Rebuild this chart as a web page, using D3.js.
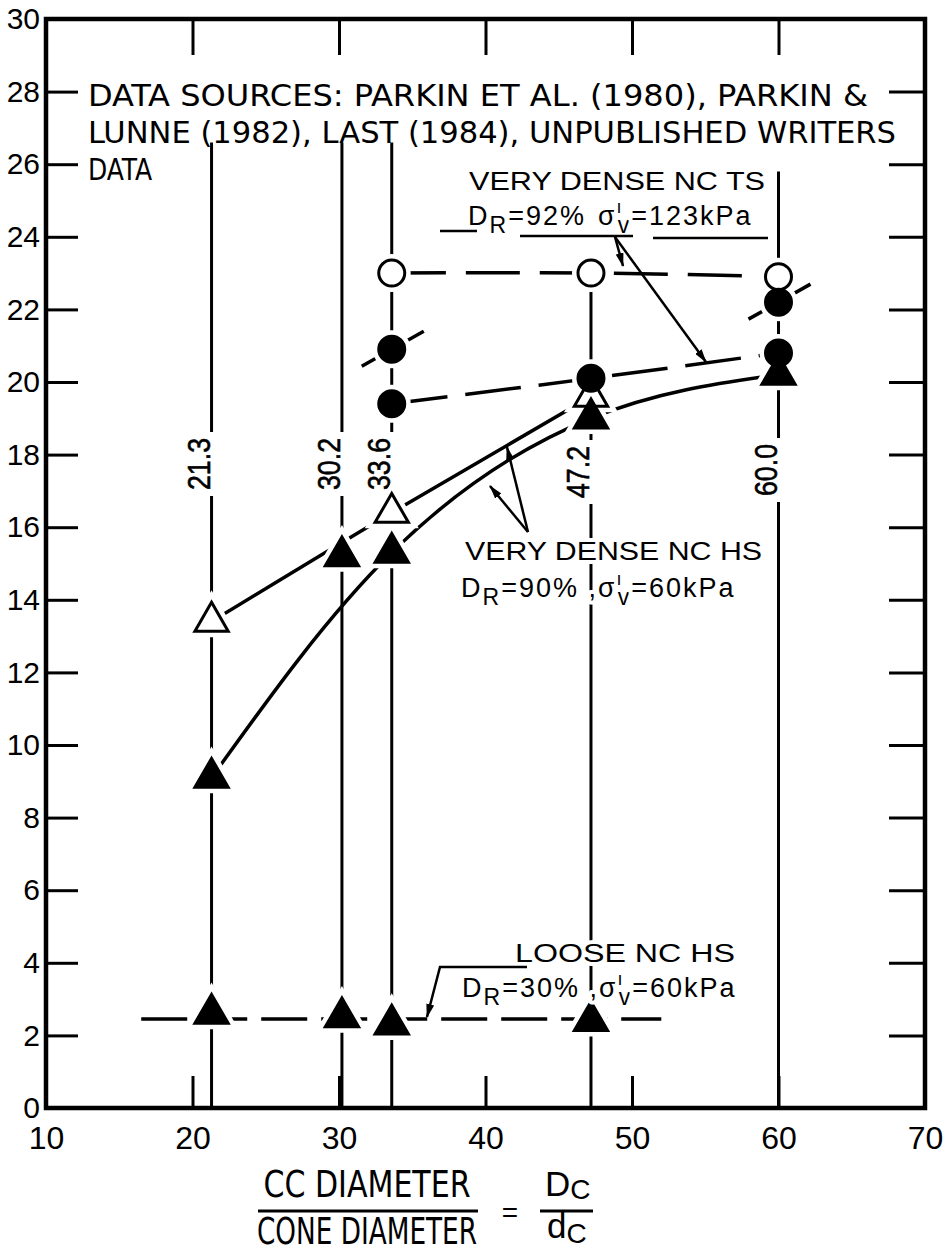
<!DOCTYPE html>
<html>
<head>
<meta charset="utf-8">
<script src="https://cdn.jsdelivr.net/npm/d3@7"></script>
<style>
  body { margin: 0; background: #fff; }
  svg { display: block; }
  text { font-family: "Liberation Sans", Arial, sans-serif; fill: #000; }
  .narrow { font-family: "Liberation Sans Narrow", "DejaVu Sans Condensed", "Liberation Sans", sans-serif; }
</style>
</head>
<body>
<div id="chart"></div>
<script>
// Dc/dc ratios where tests were run (vertical guide lines)
const ratios = [21.3, 30.2, 33.6, 47.2, 60.0];
const ratioLabels = ['21.3', '30.2', '33.6', '47.2', '60.0'];

// very dense NC TS
const tsOpenX = [33.6, 47.2, 60.0];
const tsOpenY = [23.0, 23.0, 22.9];
const tsFilledX = [33.6, 47.2, 60.0];
const tsFilledY = [19.4, 20.1, 20.8];
const tsUpperX = [33.6, 60.0];
const tsUpperY = [20.9, 22.2];

// very dense NC HS
const hsOpenX = [21.3, 33.6, 47.2];
const hsOpenY = [13.4, 16.4, 19.6];
const hsFilledX = [21.3, 30.2, 33.6, 47.2, 60.0];
const hsFilledY = [9.1, 15.2, 15.3, 19.0, 20.2];
const hsCurveX = [21.3, 33.6, 47.2, 60.0];
const hsCurveY = [9.1, 15.3, 19.0, 20.2];

// loose NC HS
const looseX = [21.3, 30.2, 33.6, 47.2];
const looseY = [2.6, 2.5, 2.3, 2.4];
const looseLineX = [16.5, 52.0];
const looseLineY = [2.45, 2.45];

const xTicks = [10, 20, 30, 40, 50, 60, 70];
const yTicks = [0, 2, 4, 6, 8, 10, 12, 14, 16, 18, 20, 22, 24, 26, 28, 30];

const width = 945;
const height = 1253;

const x = d3.scaleLinear().domain([10, 70]).range([46, 925]);
const y = d3.scaleLinear().domain([0, 30]).range([1108, 19]);

const svg = d3.select('#chart').append('svg')
  .attr('width', width)
  .attr('height', height);

const defs = svg.append('defs');
defs.append('marker')
  .attr('id', 'arrow')
  .attr('viewBox', '0 0 14 8')
  .attr('refX', 13)
  .attr('refY', 4)
  .attr('markerWidth', 14)
  .attr('markerHeight', 8)
  .attr('markerUnits', 'userSpaceOnUse')
  .attr('orient', 'auto')
  .append('path')
  .attr('d', 'M0,0 L14,4 L0,8 Z')
  .attr('fill', '#000');

const zip = (xs, ys) => xs.map((v, i) => [v, ys[i]]);

// axes ---------------------------------------------------------------
function styleAxis(g, fontSize) {
  g.attr('font-family', null).attr('font-size', fontSize);
  g.select('.domain').remove();
  g.selectAll('.tick line').attr('stroke-width', 3);
}

const axisL = svg.append('g')
  .attr('transform', `translate(${x(10)},0)`)
  .call(d3.axisLeft(y).tickValues(yTicks).tickSize(-32).tickPadding(6));
styleAxis(axisL, 30);
axisL.selectAll('.tick').filter((d) => d === 0 || d === 30).select('line').remove();

const axisR = svg.append('g')
  .attr('transform', `translate(${x(70)},0)`)
  .call(d3.axisRight(y).tickValues(yTicks).tickSize(-36).tickFormat(''));
styleAxis(axisR, 10);
axisR.selectAll('.tick').filter((d) => d === 0 || d === 30).remove();

const axisB = svg.append('g')
  .attr('transform', `translate(0,${y(0)})`)
  .call(d3.axisBottom(x).tickValues(xTicks).tickSize(-32).tickPadding(18));
styleAxis(axisB, 32);
axisB.selectAll('.tick').filter((d) => d === 10 || d === 70).select('line').remove();

const axisT = svg.append('g')
  .attr('transform', `translate(0,${y(30)})`)
  .call(d3.axisTop(x).tickValues(xTicks.slice(1, -1)).tickSize(-36).tickFormat(''));
styleAxis(axisT, 10);

svg.append('rect')
  .attr('x', x(10))
  .attr('y', y(30))
  .attr('width', x(70) - x(10))
  .attr('height', y(0) - y(30))
  .attr('fill', 'none')
  .attr('stroke', '#000')
  .attr('stroke-width', 4.5);

// vertical guide lines at each Dc/dc ---------------------------------
const guideTop = [26.6, 26.6, 26.6, 23.0, 25.8];
svg.append('g').selectAll('line')
  .data(ratios)
  .join('line')
  .attr('x1', (d) => x(d))
  .attr('x2', (d) => x(d))
  .attr('y1', (d, i) => y(guideTop[i]))
  .attr('y2', y(0))
  .attr('stroke', '#000')
  .attr('stroke-width', 3);

// rotated ratio labels, with a white gap cut in the guide line
const labelMid = [464, 464, 464, 472, 470];
const rl = svg.append('g').selectAll('g')
  .data(ratios)
  .join('g')
  .attr('transform', (d, i) => `translate(${x(d) - 2},${labelMid[i]}) rotate(-90)`);
rl.append('rect')
  .attr('x', -32)
  .attr('y', -26)
  .attr('width', 64)
  .attr('height', 32)
  .attr('fill', '#fff');
rl.append('text')
  .attr('text-anchor', 'middle')
  .attr('font-size', 31)
  .attr('textLength', 52)
  .attr('lengthAdjust', 'spacingAndGlyphs')
  .attr('stroke', '#000')
  .attr('stroke-width', 0.6)
  .text((d, i) => ratioLabels[i]);

// curves --------------------------------------------------------------
const curve = d3.line()
  .x((d) => x(d[0]))
  .y((d) => y(d[1]))
  .curve(d3.curveNatural);

const curves = svg.append('g')
  .attr('fill', 'none')
  .attr('stroke', '#000')
  .attr('stroke-width', 3.5);

curves.append('path')
  .attr('d', curve(zip(tsOpenX, tsOpenY)))
  .attr('stroke-dasharray', '54,20');
curves.append('path')
  .attr('d', curve(zip(tsFilledX, tsFilledY)))
  .attr('stroke-dasharray', '56,18');
curves.append('path')
  .attr('d', curve(zip(hsOpenX, hsOpenY)));
curves.append('path')
  .attr('d', curve(zip(hsCurveX, hsCurveY)));
curves.append('path')
  .attr('d', curve(zip(looseLineX, looseLineY)))
  .attr('stroke-dasharray', '46,14');

// short tangent strokes through the upper TS points
curves.selectAll('.slash')
  .data(zip(tsUpperX, tsUpperY))
  .join('line')
  .attr('class', 'slash')
  .attr('x1', (d) => x(d[0]) - 30)
  .attr('y1', (d) => y(d[1]) + 17)
  .attr('x2', (d) => x(d[0]) + 32)
  .attr('y2', (d) => y(d[1]) - 18);

// markers -------------------------------------------------------------
const tri = d3.symbol(d3.symbolTriangle, 480);
const circ = d3.symbol(d3.symbolCircle, Math.PI * 13 * 13);

const groups = [
  { sym: tri, pts: zip(hsOpenX, hsOpenY), fill: '#fff' },
  { sym: tri, pts: zip(hsFilledX, hsFilledY), fill: '#000' },
  { sym: tri, pts: zip(looseX, looseY), fill: '#000' },
  { sym: circ, pts: zip(tsOpenX, tsOpenY), fill: '#fff' },
  { sym: circ, pts: zip(tsFilledX, tsFilledY), fill: '#000' },
  { sym: circ, pts: zip(tsUpperX, tsUpperY), fill: '#000' },
];

const halo = svg.append('g');
const marks = svg.append('g');
groups.forEach((g) => {
  halo.selectAll(null)
    .data(g.pts)
    .join('path')
    .attr('d', g.sym)
    .attr('transform', (d) => `translate(${x(d[0])},${y(d[1])})`)
    .attr('fill', '#fff')
    .attr('stroke', '#fff')
    .attr('stroke-width', 12);
});
groups.forEach((g) => {
  marks.selectAll(null)
    .data(g.pts)
    .join('path')
    .attr('d', g.sym)
    .attr('transform', (d) => `translate(${x(d[0])},${y(d[1])})`)
    .attr('fill', g.fill)
    .attr('stroke', '#000')
    .attr('stroke-width', 3);
});

// annotations ----------------------------------------------------------
const ann = svg.append('g');

function haloText(sel) {
  return sel
    .attr('stroke', '#fff')
    .attr('stroke-width', 8)
    .attr('stroke-linejoin', 'round')
    .attr('paint-order', 'stroke');
}

const sources = [
  'DATA SOURCES: PARKIN ET AL. (1980), PARKIN &',
  'LUNNE (1982), LAST (1984), UNPUBLISHED WRITERS',
  'DATA',
];
const sourceLen = [780, 808, 64];
ann.selectAll('.src')
  .data(sources)
  .join('text')
  .attr('class', 'src narrow')
  .attr('x', 88)
  .attr('y', (d, i) => 106 + i * 37)
  .attr('font-size', 30)
  .attr('textLength', (d, i) => sourceLen[i])
  .attr('lengthAdjust', 'spacingAndGlyphs')
  .text((d) => d);

function title(xp, yp, str, len) {
  haloText(ann.append('text'))
    .attr('x', xp)
    .attr('y', yp)
    .attr('font-size', 26)
    .attr('textLength', len)
    .attr('lengthAdjust', 'spacingAndGlyphs')
    .text(str);
}

function stressLabel(xp, yp, dr, sig, sep) {
  const t = haloText(ann.append('text'))
    .attr('x', xp)
    .attr('y', yp)
    .attr('font-size', 27)
    .attr('letter-spacing', 2);
  t.append('tspan').text('D');
  t.append('tspan').attr('dy', 8).attr('font-size', 23).text('R');
  t.append('tspan').attr('dy', -8).text(dr);
  t.append('tspan').attr('dx', sep).text('σ');
  t.append('tspan').attr('dy', -12).attr('font-size', 18).text('ı');
  t.append('tspan').attr('dx', -6).attr('dy', 20).attr('font-size', 23).text('v');
  t.append('tspan').attr('dy', -8).text(sig);
}

title(469, 190, 'VERY DENSE NC TS', 296);
stressLabel(468, 225, '=92%', '=123kPa', 12);
title(465, 560, 'VERY DENSE NC HS', 297);
stressLabel(461, 597, '=90% ,', '=60kPa', 0);
title(515, 962, 'LOOSE  NC HS', 220);
stressLabel(462, 997, '=30% ,', '=60kPa', 0);

const leaders = svg.append('g')
  .attr('fill', 'none')
  .attr('stroke', '#000')
  .attr('stroke-width', 2.5);

// underlines of the TS label
[[440, 477, 231], [520, 633, 236], [653, 768, 238]].forEach(([a, b, yy]) => {
  leaders.append('line').attr('x1', a).attr('x2', b).attr('y1', yy).attr('y2', yy);
});
leaders.append('line')
  .attr('x1', 615).attr('y1', 237).attr('x2', 706).attr('y2', 362)
  .attr('marker-end', 'url(#arrow)');
leaders.append('line')
  .attr('x1', 615).attr('y1', 237).attr('x2', 623).attr('y2', 266)
  .attr('marker-end', 'url(#arrow)');

// HS arrows
leaders.append('line')
  .attr('x1', 528).attr('y1', 532).attr('x2', 507).attr('y2', 447)
  .attr('marker-end', 'url(#arrow)');
leaders.append('line')
  .attr('x1', 528).attr('y1', 532).attr('x2', 490).attr('y2', 486)
  .attr('marker-end', 'url(#arrow)');

// loose leader
leaders.append('path')
  .attr('d', 'M527,967 L440,967 L427,1017')
  .attr('marker-end', 'url(#arrow)');

// x axis title ---------------------------------------------------------
const xt = svg.append('g');
xt.append('text').attr('class', 'narrow').attr('x', 367).attr('y', 1197)
  .attr('text-anchor', 'middle').attr('font-size', 37)
  .attr('textLength', 207).attr('lengthAdjust', 'spacingAndGlyphs')
  .text('CC DIAMETER');
xt.append('text').attr('class', 'narrow').attr('x', 367).attr('y', 1244)
  .attr('text-anchor', 'middle').attr('font-size', 37)
  .attr('textLength', 220).attr('lengthAdjust', 'spacingAndGlyphs')
  .text('CONE DIAMETER');
xt.append('line').attr('x1', 258).attr('x2', 478).attr('y1', 1211).attr('y2', 1211)
  .attr('stroke', '#000').attr('stroke-width', 3);
xt.append('text').attr('x', 510).attr('y', 1222).attr('text-anchor', 'middle')
  .attr('font-size', 28).text('=');
const dc = xt.append('text').attr('x', 545).attr('y', 1196).attr('font-size', 35);
dc.append('tspan').text('D');
dc.append('tspan').attr('dy', 3).attr('font-size', 28).text('C');
const dc2 = xt.append('text').attr('x', 547).attr('y', 1238).attr('font-size', 35);
dc2.append('tspan').text('d');
dc2.append('tspan').attr('dy', 5).attr('font-size', 28).text('C');
xt.append('line').attr('x1', 540).attr('x2', 593).attr('y1', 1211).attr('y2', 1211)
  .attr('stroke', '#000').attr('stroke-width', 3);
</script>
</body>
</html>
